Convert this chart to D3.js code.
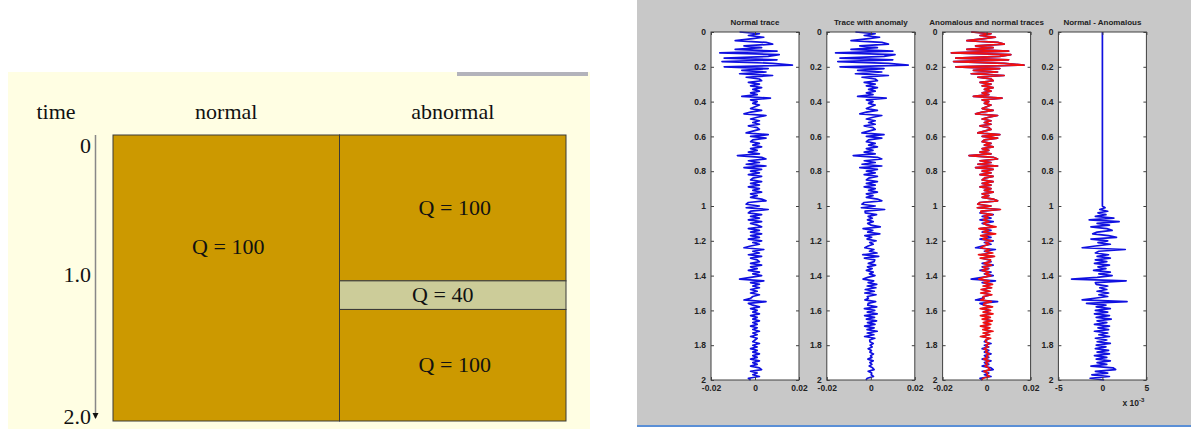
<!DOCTYPE html>
<html>
<head>
<meta charset="utf-8">
<script src="https://cdn.jsdelivr.net/npm/d3@7"></script>
<style>
  body { margin: 0; background: #fff; }
  svg { display: block; }
</style>
</head>
<body>
<script>
// ---------- left: Q model ----------
var columns = ["normal", "abnormal"];
var timeTicks = [0, 1, 2];
var timeTickLabels = ["0", "1.0", "2.0"];
var layerCols = ["normal", "abnormal", "abnormal", "abnormal"];
var layerTop = [0, 0, 1.02, 1.22];
var layerBottom = [2, 1.02, 1.22, 2];
var layerQ = [100, 100, 40, 100];

// ---------- right: traces (amplitudes in units of 1e-3, dt = 0.01 s) ----------
var dt = 0.01;
var normal = [
  -7, 2, -3, 4, -2, -9, 5, 8, -5, 3,
  -9, 10, -16, 11, 6, -14, 10, -15, 8, 17,
  -14, 6, -6, 5, -7, 8, -4, 2, 3, -3,
  2, -2, 3, -1, 2, -2, 1, -6, 7, -2,
  1, -1, 2, 0, -2, 3, -2, -5, 5, 1,
  -2, 2, -1, 2, -3, 1, 2, -1, -4, 6,
  -2, 5, -1, -2, 2, -1, 3, -2, 1, -3,
  2, -8, 3, 5, -3, 2, -4, 5, -5, 3,
  -2, 2, -3, 3, -1, -2, 3, -2, 2, -3,
  2, -1, 3, -2, 1, -2, 3, 5, -3, -4,
  2, -4, 6, -2, -3, 3, -2, 2, -3, 3,
  -2, 1, 3, -3, 2, -2, 3, -2, 2, -3,
  3, -1, 2, -2, -5, 4, -1, 2, -3, 3,
  -2, 1, 2, -2, 3, -2, 1, -3, 2, -1,
  3, -2, -7, 4, -2, 2, -1, 2, -2, 1,
  -2, 2, -1, -2, -5, 5, -3, -1, 2, -2,
  1, -1, 2, -2, 1, -1, 2, -1, 1, -2,
  1, -1, 2, -1, 1, -2, 1, 0, -1, 2,
  -1, 1, -2, 1, -1, 2, -1, 1, -2, 2,
  -1, 1, -2, 2, 3, -2, 1, -1, 2, -3,
  -2
];
// normal - anomalous
var difference = [
  0, 0, 0, 0, 0, 0, 0, 0, 0, 0,
  0, 0, 0, 0, 0, 0, 0, 0, 0, 0,
  0, 0, 0, 0, 0, 0, 0, 0, 0, 0,
  0, 0, 0, 0, 0, 0, 0, 0, 0, 0,
  0, 0, 0, 0, 0, 0, 0, 0, 0, 0,
  0, 0, 0, 0, 0, 0, 0, 0, 0, 0,
  0, 0, 0, 0, 0, 0, 0, 0, 0, 0,
  0, 0, 0, 0, 0, 0, 0, 0, 0, 0,
  0, 0, 0, 0, 0, 0, 0, 0, 0, 0,
  0, 0, 0, 0, 0, 0, 0, 0, 0, 0,
  0, 0.3, -0.3, 0.6, -0.5, 0.4, -0.8, 1.3, -1.5, 1.9,
  -0.6, 0.8, -1.3, 0.5, 1.1, -0.6, -1.1, 0.7, 1.6, -1.3,
  0.6, -0.5, 0.9, -0.8, -2.3, 2.6, -0.4, -0.8, 0.7, -0.6,
  0.9, -0.8, 0.5, -0.9, 0.8, -0.5, 0.4, -1.0, 0.9, -0.4,
  1.1, -0.6, -3.5, 2.7, -0.8, -0.7, 0.6, -0.3, 0.5, -0.6,
  0.7, -0.4, 0.6, -0.9, -2.3, 2.8, -1.8, 0.4, -0.7, 0.9,
  -0.8, 0.6, -0.9, 0.8, -0.7, 1.0, -0.6, 0.5, -0.9, 0.8,
  -0.5, 0.7, -0.9, 0.6, -0.4, 0.8, -0.8, 0.5, -0.6, 0.9,
  -0.7, 0.4, -0.8, 0.7, -0.6, 0.8, -0.9, 0.5, -0.7, 0.9,
  -0.6, 0.5, -1.3, 1.2, 1.5, -0.8, 0.6, -1.2, 0.8, -1.4,
  0.2
];
var anomalous = normal.map(function(v, i) { return v - difference[i]; });

var titles = ["Normal trace", "Trace with anomaly", "Anomalous and normal traces", "Normal - Anomalous"];
var yTicks = [0, 0.2, 0.4, 0.6, 0.8, 1, 1.2, 1.4, 1.6, 1.8, 2];
var traceTicks = [-20, 0, 20];
var traceTickLabels = ["-0.02", "0", "0.02"];
var diffTicks = [-5, 0, 5];
var diffTickLabels = ["-5", "0", "5"];

var W = 1191, H = 429;
var svg = d3.select("body").append("svg").attr("width", W).attr("height", H);

// ---------- left drawing ----------
var serif = "'Liberation Serif', 'Times New Roman', serif";
svg.append("rect").attr("x", 8).attr("y", 72).attr("width", 582).attr("height", H - 72)
  .attr("fill", "#fffee3");
svg.append("rect").attr("x", 457).attr("y", 72).attr("width", 131).attr("height", 4)
  .attr("fill", "#b3b3bb");

var colX = d3.scaleBand().domain(columns).range([113, 566]);
var ty = d3.scaleLinear().domain([0, 2]).range([135, 421]);
var tickY = d3.scaleLinear().domain(timeTicks).range([153, 282, 424]);

svg.append("line").attr("x1", 95.5).attr("x2", 95.5).attr("y1", ty(0)).attr("y2", 418)
  .attr("stroke", "#888").attr("stroke-width", 1.5);
svg.append("path").attr("d", "M92.5,413L98.5,413L95.5,419Z").attr("fill", "#111");

var layerIdx = d3.range(layerQ.length);
svg.selectAll(".layer").data(layerIdx).enter().append("rect")
  .attr("x", function(i) { return colX(layerCols[i]); })
  .attr("width", colX.bandwidth())
  .attr("y", function(i) { return ty(layerTop[i]); })
  .attr("height", function(i) { return ty(layerBottom[i]) - ty(layerTop[i]); })
  .attr("fill", function(i) { return layerQ[i] < 100 ? "#cccc99" : "#cc9900"; })
  .attr("stroke", "#3a3a3a").attr("stroke-width", 1);

var left = svg.append("g").attr("font-family", serif).attr("font-size", 22).attr("fill", "#111");

left.append("text").attr("x", 56).attr("y", 119).attr("text-anchor", "middle").text("time");
left.selectAll(".hdr").data(columns).enter().append("text")
  .attr("x", function(d) { return colX(d) + colX.bandwidth() / 2; })
  .attr("y", 119).attr("text-anchor", "middle").text(function(d) { return d; });

left.selectAll(".tt").data(timeTicks).enter().append("text")
  .attr("x", 91).attr("y", function(d) { return tickY(d); })
  .attr("text-anchor", "end").text(function(d, i) { return timeTickLabels[i]; });

// the full-height layer's label sits higher than its middle
var labelT = function(i) { return layerBottom[i] - layerTop[i] >= 2 ? 0.78 : (layerTop[i] + layerBottom[i]) / 2; };
left.selectAll(".q").data(layerIdx).enter().append("text")
  .attr("x", function(i) { return colX(layerCols[i]) + colX.bandwidth() / 2 + (layerQ[i] < 100 ? -10 : 2); })
  .attr("y", function(i) { return ty(labelT(i)) + 7; })
  .attr("text-anchor", "middle")
  .text(function(i) { return "Q = " + layerQ[i]; });

// ---------- right drawing ----------
var sans = "'Liberation Sans', Arial, Helvetica, sans-serif";
svg.append("rect").attr("x", 637).attr("y", 0).attr("width", W - 637).attr("height", 425)
  .attr("fill", "#c8c8c8");
svg.append("rect").attr("x", 637).attr("y", 425).attr("width", W - 637).attr("height", 2)
  .attr("fill", "#5a8fd6");

var y = d3.scaleLinear().domain([0, 2]).range([32, 380]);
var axW = 88, axStep = 115.8, axX0 = 711;

var panels = [
  { series: [{ v: normal, c: "#1010e0" }], ticks: traceTicks, labels: traceTickLabels },
  { series: [{ v: anomalous, c: "#1010e0" }], ticks: traceTicks, labels: traceTickLabels },
  { series: [{ v: normal, c: "#1010e0" }, { v: anomalous, c: "#f01010" }], ticks: traceTicks, labels: traceTickLabels },
  { series: [{ v: difference, c: "#1010e0" }], ticks: diffTicks, labels: diffTickLabels }
];

panels.forEach(function(p, k) {
  var x0 = axX0 + k * axStep;
  var x = d3.scaleLinear().domain([p.ticks[0], p.ticks[2]]).range([x0, x0 + axW]);
  var g = svg.append("g");

  g.append("rect").attr("x", x0).attr("y", y(0)).attr("width", axW).attr("height", y(2) - y(0))
    .attr("fill", "#fff");

  var line = d3.line()
    .x(function(d) { return x(d); })
    .y(function(d, i) { return y(i * dt); });
  p.series.forEach(function(s) {
    g.append("path").attr("d", line(s.v)).attr("fill", "none")
      .attr("stroke", s.c).attr("stroke-width", 1.7).attr("stroke-linejoin", "round");
  });

  var styleAxis = function(sel, showLabels) {
    sel.select(".domain").remove();
    sel.selectAll("line").attr("stroke", "#404040");
    sel.selectAll("text").attr("font-family", sans).attr("font-size", 8.5)
      .attr("font-weight", "bold").attr("fill", "#222");
    if (!showLabels) sel.selectAll("text").remove();
  };
  g.append("g").attr("transform", "translate(" + x0 + ",0)")
    .call(d3.axisLeft(y).tickValues(yTicks).tickSize(-3).tickPadding(5).tickFormat(d3.format("~g")))
    .call(styleAxis, true);
  g.append("g").attr("transform", "translate(" + (x0 + axW) + ",0)")
    .call(d3.axisRight(y).tickValues(yTicks).tickSize(-3))
    .call(styleAxis, false);
  g.append("g").attr("transform", "translate(0," + y(2) + ")")
    .call(d3.axisBottom(x).tickValues(p.ticks).tickSize(-3).tickPadding(5)
      .tickFormat(function(d, i) { return p.labels[i]; }))
    .call(styleAxis, true);
  g.append("g").attr("transform", "translate(0," + y(0) + ")")
    .call(d3.axisTop(x).tickValues(p.ticks).tickSize(-3))
    .call(styleAxis, false);

  g.append("rect").attr("x", x0).attr("y", y(0)).attr("width", axW).attr("height", y(2) - y(0))
    .attr("fill", "none").attr("stroke", "#404040").attr("stroke-width", 1);

  g.append("text").attr("x", x0 + axW / 2).attr("y", 25).attr("text-anchor", "middle")
    .attr("font-family", sans).attr("font-size", 8).attr("font-weight", "bold").attr("fill", "#222")
    .text(titles[k]);

  if (k === 3) {
    var ex = g.append("text").attr("x", x0 + axW - 2).attr("y", 406).attr("text-anchor", "end")
      .attr("font-family", sans).attr("font-size", 8.5).attr("font-weight", "bold").attr("fill", "#222");
    ex.append("tspan").text("x 10");
    ex.append("tspan").attr("dy", -4).attr("font-size", 6).text("-3");
  }
});
</script>
</body>
</html>
